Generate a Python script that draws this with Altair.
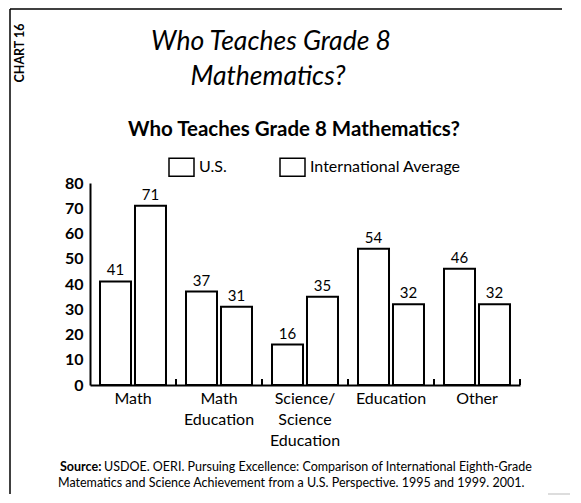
import altair as alt
import pandas as pd

categories = ["Math", "Math\nEducation", "Science/\nScience\nEducation", "Education", "Other"]
series = ["U.S.", "International Average"]
us_values = [41, 37, 16, 54, 46]
intl_values = [71, 31, 35, 32, 32]
y_ticks = [0, 10, 20, 30, 40, 50, 60, 70, 80]

rows = []
for c, u, i in zip(categories, us_values, intl_values):
    rows.append({"cat": c, "series": series[0], "value": u})
    rows.append({"cat": c, "series": series[1], "value": i})
df = pd.DataFrame(rows)

FONT = "Lato"
W, H = 430, 202

x_enc = alt.X("cat:N", sort=categories, title=None,
              scale=alt.Scale(paddingInner=0, paddingOuter=0),
              axis=alt.Axis(labelAngle=0, labelFontSize=16, labelFont=FONT, labelColor="black",
                            labelExpr="split(datum.label, '\\n')", labelLineHeight=21,
                            labelPadding=5, ticks=False, domainColor="black", domainWidth=2,
                            labelBaseline="top"))
xo_enc = alt.XOffset("series:N", sort=series,
                     scale=alt.Scale(paddingInner=0.114, paddingOuter=0.286))
y_enc = alt.Y("value:Q", title=None,
              scale=alt.Scale(domain=[0, 80]),
              axis=alt.Axis(values=y_ticks, tickCount=9, ticks=False, grid=False, labelOverlap=False,
                            labelFontSize=16, labelFont=FONT, labelFontWeight="bold",
                            labelColor="black", labelPadding=7,
                            domainColor="black", domainWidth=2))

bars = alt.Chart(df).mark_bar(stroke="black", strokeWidth=2).encode(
    x=x_enc, xOffset=xo_enc, y=y_enc,
    fill=alt.Fill("series:N", sort=series, title=None,
                  scale=alt.Scale(domain=series, range=["white", "white"]),
                  legend=alt.Legend(orient="none", legendX=78, legendY=-29.5, direction="horizontal",
                                    symbolType="M-1,-0.72L1,-0.72L1,0.72L-1,0.72Z", symbolSize=625,
                                    symbolStrokeColor="black", symbolStrokeWidth=1.5,
                                    symbolFillColor="white",
                                    labelFontSize=16, labelFont=FONT, labelColor="black",
                                    labelOffset=4, columnPadding=50)),
)

labels = alt.Chart(df).mark_text(baseline="alphabetic", dy=-6, fontSize=15, font=FONT, color="black").encode(
    x=x_enc, xOffset=xo_enc, y=y_enc, text="value:Q")

ticks = alt.Chart(pd.DataFrame({"cat": categories})).mark_rule(color="black", strokeWidth=2).encode(
    x=alt.X("cat:N", sort=categories, bandPosition=1),
    y=alt.value(H - 6), y2=alt.value(H))

one = pd.DataFrame({"k": [0]})

def txt(s, x, y, **kw):
    params = dict(font=FONT, color="black")
    params.update(kw)
    return alt.Chart(one).mark_text(**params).encode(x=alt.value(x), y=alt.value(y), text=alt.value(s))

def line(x, x2, y, y2, color="black", w=1.5):
    return alt.Chart(one).mark_rule(color=color, strokeWidth=w).encode(
        x=alt.value(x), x2=alt.value(x2), y=alt.value(y), y2=alt.value(y2))

deco = [
    line(-80, 472, -174, -174),
    line(-80, -80, -174, 311),
    line(458, 480, 311, 311, color="#bbbbbb", w=1),
    txt("CHART 16", -70, -130, angle=270, fontSize=12.5, fontWeight="bold", baseline="middle", align="center"),
    txt("Who Teaches Grade 8", 181, -141, fontSize=26.5, fontStyle="italic", baseline="middle", align="center"),
    txt("Mathematics?", 178, -106, fontSize=26.5, fontStyle="italic", baseline="middle", align="center"),
    txt("Who Teaches Grade 8 Mathematics?", 204, -53, fontSize=20.5, fontWeight="bold", baseline="middle", align="center"),
    txt("Source:", -30, 284, fontSize=12.5, fontWeight="bold", baseline="middle", align="left"),
    txt("USDOE. OERI. Pursuing Excellence:  Comparison of International Eighth-Grade", 14, 284,
        fontSize=12.5, baseline="middle", align="left"),
    txt("Matematics and Science Achievement from a U.S. Perspective. 1995 and 1999. 2001.", -32, 300,
        fontSize=12.5, baseline="middle", align="left"),
]

chart = alt.layer(bars, labels, ticks, *deco).properties(
    width=W, height=H,
    autosize=alt.AutoSizeParams(type="none"),
    padding={"left": 82, "top": 175, "right": 50, "bottom": 110},
    background="white",
).configure_view(stroke=None)

chart.save("out.html", embed_options={"renderer": "svg", "actions": False})
